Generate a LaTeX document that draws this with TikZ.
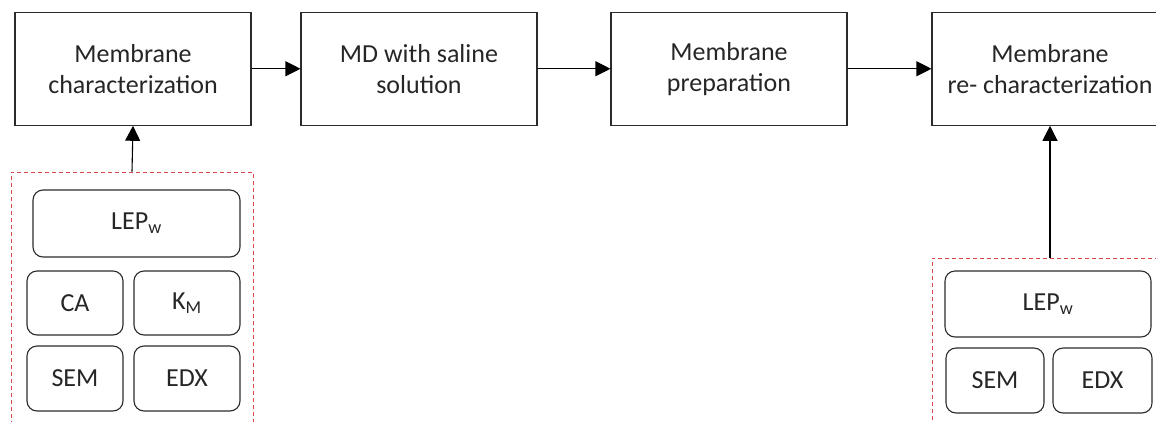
\documentclass[tikz,border=0pt]{standalone}
\usepackage{fontspec}
\setmainfont{Carlito}
\usepackage{xcolor}
\definecolor{Ink}{HTML}{262626}
\definecolor{EdgeGray}{HTML}{2B2B2B}
\definecolor{DashRed}{HTML}{D9474A}
\usepackage{tikz}
\usetikzlibrary{arrows.meta}
\tikzset{
  stage/.style n args={2}{
    rectangle, draw=EdgeGray, line width=1.1pt,
    minimum width=#1, minimum height=#2,
    inner sep=0pt, align=center, text=Ink,
    font=\fontsize{26}{31}\selectfont
  },
  test/.style n args={2}{
    rectangle, rounded corners=10pt, draw=EdgeGray, line width=1.1pt,
    minimum width=#1, minimum height=#2,
    inner sep=0pt, align=center, text=Ink,
    font=\fontsize{26}{31}\selectfont
  },
  group/.style n args={2}{
    rectangle, draw=DashRed, line width=0.9pt,
    dash pattern=on 4pt off 3pt,
    minimum width=#1, minimum height=#2, inner sep=0pt
  },
  arr/.style={-{Triangle[length=15pt, width=15pt]}, line width=1.1pt, color=black},
}

\begin{document}
\begin{tikzpicture}[x=1pt, y=-1pt]
\useasboundingbox (0,0) rectangle (1156,421);
\clip (0,0) rectangle (1156,421);

% process chain
\node[stage={236pt}{113pt}] at (133,68.75) (char) {Membrane\\characterization};
\node[stage={236pt}{113pt}] at (419,68.75) (md) {MD with saline\\solution};
\node[stage={236pt}{113pt}] at (729,68.75) (prep) {Membrane\\preparation};
\node[stage={236pt}{113pt}] at (1050,68.75) (rechar) {Membrane\\re- characterization};

\draw[arr] (char) -- (md);
\draw[arr] (md) -- (prep);
\draw[arr] (prep) -- (rechar);

% tests before MD
\node[group={242pt}{268pt}] at (132,306) (grpL) {};
\node[test={207pt}{67pt}] at (136.5,223.5) (lepL) {LEP\textsubscript{w}};
\node[test={96pt}{64pt}] at (75,303) (caL) {CA};
\node[test={106pt}{64pt}] at (187,303) (kmL) {K\textsubscript{M}};
\node[test={96pt}{65pt}] at (75,378.5) (semL) {SEM};
\node[test={106pt}{65pt}] at (187,378.5) (edxL) {EDX};

% tests after MD
\node[group={236pt}{182pt}] at (1050,349) (grpR) {};
\node[test={206pt}{66pt}] at (1048,304) (lepR) {LEP\textsubscript{w}};
\node[test={98pt}{65pt}] at (995,380.5) (semR) {SEM};
\node[test={99pt}{65pt}] at (1102.5,380.5) (edxR) {EDX};

\draw[arr] (grpL.north) -- (char.south);
\draw[arr] (grpR.north) -- (rechar.south);

\end{tikzpicture}
\end{document}
